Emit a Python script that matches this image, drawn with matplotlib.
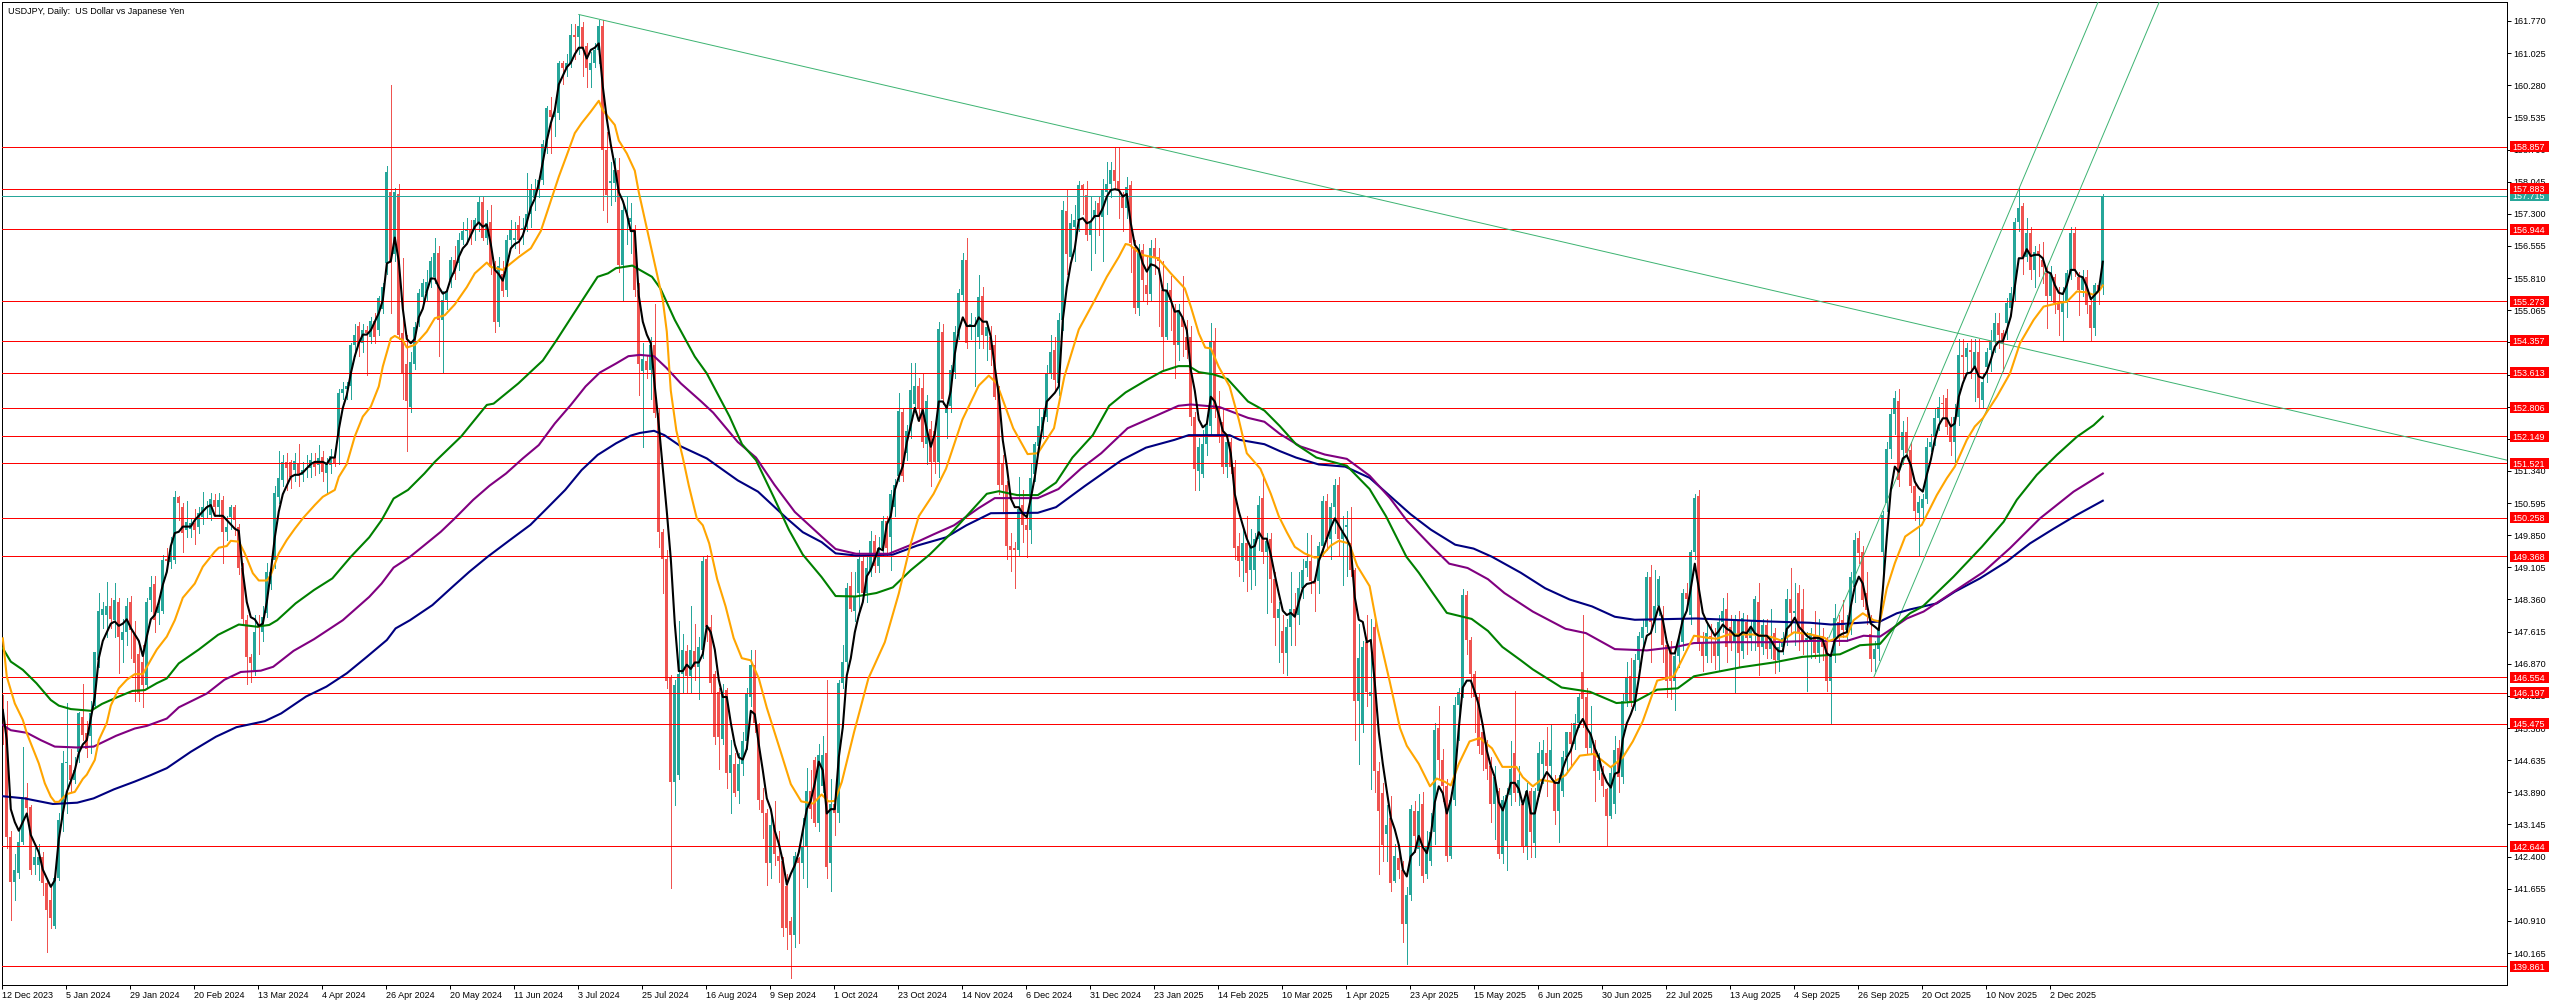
import matplotlib
matplotlib.use("Agg")
import matplotlib.pyplot as plt
from matplotlib.patches import Rectangle
from matplotlib.transforms import blended_transform_factory as blend

title = "USDJPY, Daily:  US Dollar vs Japanese Yen"
date_labels = ["12 Dec 2023","5 Jan 2024","29 Jan 2024","20 Feb 2024","13 Mar 2024","4 Apr 2024","26 Apr 2024","20 May 2024","11 Jun 2024","3 Jul 2024","25 Jul 2024","16 Aug 2024","9 Sep 2024","1 Oct 2024","23 Oct 2024","14 Nov 2024","6 Dec 2024","31 Dec 2024","23 Jan 2025","14 Feb 2025","10 Mar 2025","1 Apr 2025","23 Apr 2025","15 May 2025","6 Jun 2025","30 Jun 2025","22 Jul 2025","13 Aug 2025","4 Sep 2025","26 Sep 2025","20 Oct 2025","10 Nov 2025","2 Dec 2025"]
price_ticks = [161.770,161.025,160.280,159.535,158.790,158.045,157.300,156.555,155.810,155.065,154.320,153.575,152.830,152.085,151.340,150.595,149.850,149.105,148.360,147.615,146.870,146.125,145.380,144.635,143.890,143.145,142.400,141.655,140.910,140.165]
levels = [158.857,157.883,156.944,155.273,154.357,153.613,152.806,152.149,151.521,150.258,149.368,146.554,146.197,145.475,142.644,139.861]
last_price = 157.715

opens = [145.6,145.4,142.86,141.82,142.03,142.75,143.79,143.55,142.2,142.2,
142.4,141.78,141.4,140.79,141.9,143.25,144.56,144.52,144.17,144.83,
145.64,145.26,145.2,145.88,146.96,148.0,148.0,148.2,147.88,148.3,
147.42,147.6,148.3,147.58,147.1,146.9,146.38,148.35,148.73,148.05,
148.1,149.3,149.23,149.28,150.74,150.5,149.97,150.0,150.13,150.05,
150.28,150.49,150.32,150.66,150.5,150.66,149.93,150.28,150.5,150.05,
149.08,147.88,147.03,146.73,147.75,147.6,148.04,148.73,149.27,150.74,
151.13,151.55,151.55,151.36,151.5,151.25,151.36,151.4,151.55,151.48,
151.67,151.3,151.48,151.65,152.13,153.14,153.23,153.3,154.26,154.7,
154.3,154.6,154.45,154.82,154.6,155.1,156.15,157.8,156.38,157.77,
154.53,153.83,152.83,153.83,154.84,155.38,155.46,155.73,155.84,156.4,
154.84,155.3,155.77,156.23,156.15,156.7,156.9,156.93,156.93,157.08,
157.58,156.73,157.12,156.07,154.8,155.9,155.53,156.7,156.7,157.04,
156.93,157.0,157.3,157.66,157.85,158.08,158.86,159.7,159.55,159.63,
160.79,160.67,160.79,161.45,161.41,161.64,161.2,160.63,160.79,161.1,
161.65,158.78,158.02,158.02,158.32,156.11,157.36,157.1,156.93,155.53,
153.66,153.89,153.68,154.26,152.69,149.92,149.3,146.53,144.13,144.29,
146.64,147.16,146.58,147.16,146.79,147.2,149.3,147.73,146.64,146.22,
145.12,146.27,144.34,144.55,143.92,144.55,145.07,146.11,146.85,145.44,
143.71,143.4,142.25,143.14,142.41,142.3,141.73,140.9,140.58,142.36,
142.25,142.62,143.92,144.65,143.19,144.03,144.81,142.25,143.61,143.4,
146.43,146.9,148.67,148.1,148.51,149.25,148.51,149.04,149.72,149.14,
149.56,150.19,149.82,150.5,151.23,152.71,151.75,152.27,152.9,153.32,
153.26,151.96,152.32,152.27,151.54,154.57,152.69,152.85,153.63,154.53,
155.42,156.23,154.68,154.67,154.45,155.4,154.47,154.45,154.26,153.21,
151.49,151.02,149.61,149.56,149.51,150.55,150.08,149.98,151.28,151.91,
152.33,152.59,153.58,154.14,153.37,154.84,157.36,156.3,157.0,157.16,
157.97,157.73,156.8,157.23,157.54,157.23,157.81,158.0,158.32,158.05,
157.73,157.43,157.97,156.54,155.11,156.46,155.65,155.45,156.5,156.3,
155.53,154.45,155.53,155.07,154.26,154.88,154.45,154.45,152.59,151.33,
151.28,151.96,152.38,154.36,152.79,152.48,151.44,152.01,151.44,149.61,
149.25,149.66,149.04,149.04,149.77,150.71,149.45,149.77,148.83,147.94,
147.63,147.11,147.73,148.15,147.99,148.62,149.09,149.25,148.78,148.78,
149.61,150.65,149.77,150.5,151.02,149.77,150.03,149.66,149.04,146.0,
145.44,147.37,146.12,147.73,144.39,143.87,142.93,143.3,141.83,142.36,
142.1,140.84,141.52,143.45,142.57,143.61,141.99,142.3,142.98,145.38,
144.65,144.03,142.41,143.71,145.91,146.22,148.46,147.42,146.64,146.11,
145.28,144.97,144.5,143.61,143.92,142.46,142.77,143.82,144.81,143.87,
143.61,142.62,143.92,142.72,143.92,144.55,144.81,144.5,144.13,143.45,
143.92,144.7,145.28,145.02,145.49,146.69,146.11,144.91,144.97,144.39,
144.34,143.97,143.35,143.61,144.91,144.24,146.01,146.58,145.96,146.95,
147.47,147.73,148.88,147.84,148.2,148.0,147.31,147.26,146.48,147.05,
147.37,148.52,147.99,149.45,150.76,147.37,147.05,147.52,147.37,147.05,
147.84,148.15,147.73,147.37,147.89,147.16,147.84,147.47,147.63,148.31,
147.26,147.78,147.21,147.58,146.95,147.26,147.47,148.36,148.05,148.52,
148.15,147.42,147.37,147.52,147.11,147.52,147.37,146.48,147.05,147.84,
147.88,147.65,147.65,148.66,149.78,149.47,148.5,147.57,146.99,147.21,
149.47,150.59,151.86,152.67,152.95,151.83,152.25,151.83,151.0,150.36,
150.47,150.7,151.9,152.13,152.56,152.92,153.02,152.37,152.02,152.6,
154.03,153.99,154.14,153.76,154.1,152.98,153.76,154.14,154.34,154.76,
154.53,154.76,155.11,155.46,157.12,157.47,156.31,156.85,156.0,156.44,
156.23,155.92,155.4,155.84,155.23,155.03,155.23,155.92,156.85,155.84,
155.53,155.84,155.19,154.65,155.65,155.61]

closes = [145.4,142.86,141.82,142.09,142.75,143.79,143.52,142.09,142.4,142.4,
141.78,141.16,140.97,141.9,143.25,144.56,144.6,144.17,144.4,145.72,
145.22,144.9,145.72,147.15,148.1,148.13,148.2,147.9,148.35,147.5,
147.6,148.2,147.65,146.88,146.2,146.38,148.3,148.65,147.88,148.2,
149.27,149.25,149.43,150.74,150.59,149.9,150.16,150.13,149.97,150.36,
150.5,150.5,150.7,150.5,150.66,149.93,150.05,150.5,150.2,149.08,
147.9,147.03,146.88,147.6,147.7,147.95,149.0,149.0,150.82,151.17,
151.55,151.4,151.2,151.58,151.25,151.36,151.4,151.59,151.44,151.63,
151.32,151.5,151.69,151.5,153.14,153.25,153.3,154.26,154.5,154.26,
154.6,154.53,154.82,154.45,155.34,155.6,158.28,156.15,157.8,154.5,
153.6,152.97,153.87,154.68,155.46,155.7,155.73,156.2,156.4,154.84,
155.3,155.46,156.23,155.9,156.7,156.9,156.93,156.77,157.15,157.58,
156.73,157.08,156.07,154.8,156.1,155.5,156.7,156.93,156.75,156.7,
156.96,157.3,157.85,157.85,158.08,158.92,159.75,159.55,159.63,160.79,
160.67,160.79,161.45,161.41,161.65,161.17,160.67,160.8,161.1,161.65,
158.78,157.74,158.05,158.32,156.11,157.39,157.39,157.2,155.53,153.83,
153.94,153.68,154.26,152.69,149.92,149.3,146.48,144.13,146.38,146.64,
147.2,146.58,147.2,146.79,147.26,149.25,147.73,146.43,145.17,145.17,
146.22,144.34,144.76,143.87,144.55,145.07,146.17,146.85,145.49,143.71,
143.4,142.25,143.14,142.46,142.3,140.74,140.74,140.58,142.41,142.25,
142.62,143.92,143.5,143.19,144.76,144.76,142.15,143.61,143.4,146.43,
146.9,148.62,148.15,148.41,149.3,148.51,149.09,149.72,149.14,149.56,
150.19,149.56,150.81,151.02,152.74,151.23,152.27,153.21,153.32,152.79,
152.01,152.95,151.54,151.54,154.62,153.0,152.85,153.68,154.57,155.46,
156.23,154.31,154.75,154.72,155.38,154.49,154.68,154.14,153.06,151.02,
151.02,149.61,149.51,149.51,150.45,150.08,149.98,151.18,151.96,152.38,
152.59,153.58,154.1,153.45,154.84,157.39,156.38,157.08,157.16,157.97,
157.85,156.8,157.08,157.39,157.27,157.85,158.0,158.32,158.05,157.85,
157.43,157.93,156.62,155.11,156.46,155.76,155.45,156.5,156.3,156.2,
154.45,155.53,155.3,154.26,155.07,154.68,154.14,152.59,151.39,151.9,
151.96,152.38,154.36,152.79,152.17,151.44,152.01,151.44,149.56,149.25,
149.66,148.98,149.61,149.77,150.55,149.45,149.72,148.83,147.94,148.15,
147.11,147.73,148.15,147.99,148.62,149.04,149.25,148.78,148.72,149.61,
150.65,149.77,150.5,151.02,149.77,149.92,150.08,149.04,146.0,147.0,
147.26,146.22,146.22,144.39,143.45,142.67,143.14,141.78,142.41,142.1,
140.84,141.52,143.5,142.88,143.45,141.94,142.62,142.98,145.33,144.65,
144.03,142.41,143.71,145.91,146.22,148.46,147.42,146.64,146.11,144.97,
144.76,144.44,143.61,144.24,142.46,143.71,143.82,144.44,143.87,144.18,
142.62,143.92,142.98,143.92,144.81,144.86,144.5,144.86,143.45,144.13,
144.7,145.28,145.02,145.49,146.11,146.06,144.91,145.28,144.39,144.65,
144.03,143.35,144.34,144.86,144.24,146.01,146.53,146.0,146.95,147.52,
147.73,148.88,147.84,148.2,148.83,147.31,146.48,146.48,147.05,147.37,
148.52,148.36,149.45,150.71,147.37,147.05,147.58,147.49,147.05,147.84,
148.1,147.26,147.37,147.89,147.11,147.94,147.47,147.73,148.36,147.26,
147.78,147.21,147.52,146.95,147.26,147.47,148.36,148.05,148.1,147.58,
147.37,147.47,147.58,147.11,147.47,147.26,146.48,147.05,147.94,147.47,
147.65,147.77,148.89,149.74,149.43,148.35,148.12,146.99,147.21,147.65,
150.32,151.86,152.67,153.02,151.13,152.25,151.75,151.0,150.4,150.63,
150.7,151.9,152.02,152.56,152.83,152.9,152.37,152.02,152.6,154.03,
153.99,154.18,154.1,154.1,153.02,153.41,154.1,154.34,154.76,154.49,
154.34,155.23,155.46,157.12,157.43,156.31,156.85,156.0,156.42,156.35,
156.07,155.4,155.92,155.23,155.07,155.23,155.92,156.85,156.0,155.53,
155.84,155.19,154.65,155.65,155.53,157.71]

highs = [146.14,146.0,143.0,142.47,143.0,144.95,144.1,143.6,142.6,142.7,
142.5,141.9,141.7,141.98,143.4,144.85,145.95,144.9,144.7,145.75,
146.4,145.55,146.0,146.1,148.5,148.3,148.77,148.4,148.75,148.4,
147.9,148.4,148.45,147.85,147.4,147.3,148.4,148.9,148.9,148.3,
149.4,149.55,149.8,150.87,150.75,150.6,150.65,150.25,150.45,150.5,
150.85,150.65,150.82,150.8,150.82,150.75,150.3,150.55,150.55,150.1,
149.2,148.0,147.1,148.0,148.0,148.2,149.2,149.3,151.0,151.8,
151.7,151.75,151.6,151.75,151.97,151.55,151.7,151.75,151.75,151.95,
151.8,151.65,151.85,151.8,153.25,153.4,153.4,154.3,154.75,154.8,
154.75,154.7,154.9,155.0,155.4,155.7,158.4,160.29,157.9,158.0,
156.27,154.5,154.1,154.8,155.55,155.78,156.0,156.3,156.75,156.55,
155.5,155.6,156.3,156.55,156.85,157.1,157.2,157.15,157.2,157.7,
157.7,157.4,157.5,156.2,156.3,156.2,156.8,157.15,157.1,157.25,
157.2,158.25,158.0,158.1,158.15,159.0,159.8,160.0,159.8,160.85,
160.85,161.0,161.7,161.7,161.92,161.75,161.25,161.05,161.25,161.8,
161.8,159.2,158.5,158.6,158.6,157.5,157.7,157.55,157.05,155.7,
154.3,154.0,154.45,155.2,152.8,150.0,149.5,146.6,146.5,147.85,
147.55,147.3,148.2,147.8,147.5,149.35,149.4,148.0,146.7,146.3,
146.4,146.3,145.1,144.8,144.8,145.3,146.3,147.2,147.2,145.5,
144.0,143.5,143.4,143.7,143.0,142.4,142.0,141.0,142.5,142.4,
143.3,144.45,144.4,144.7,145.0,145.2,146.5,144.2,143.8,146.5,
147.3,148.75,149.0,149.0,149.5,149.4,149.35,149.95,149.85,149.8,
150.3,150.3,150.9,151.15,153.15,152.8,152.4,153.85,153.85,153.5,
153.6,153.1,152.5,152.4,154.8,154.75,152.9,153.8,154.7,155.55,
156.4,156.73,155.0,154.9,155.88,155.6,154.8,154.7,154.5,153.3,
151.7,151.1,149.9,149.7,151.2,150.9,150.4,151.5,152.0,152.8,
152.8,153.8,154.5,154.45,155.0,157.6,157.85,157.3,157.5,158.05,
158.0,158.05,157.7,157.6,157.7,158.1,158.5,158.5,158.86,158.86,
157.8,158.15,158.05,156.7,156.6,156.6,156.3,156.7,156.73,156.5,
156.2,155.7,155.85,155.2,155.2,155.85,154.85,154.7,152.7,152.1,
152.3,152.5,154.78,154.65,153.2,152.8,152.1,152.1,151.6,149.9,
150.0,150.3,150.0,149.9,150.75,151.27,149.9,149.9,149.0,148.3,
148.0,147.9,149.0,148.5,149.0,149.3,149.9,149.85,148.9,149.7,
150.75,150.8,150.6,151.15,151.2,150.3,150.4,150.5,149.1,147.8,
147.4,148.0,147.9,147.9,144.6,144.1,143.6,143.8,142.7,142.5,
142.3,141.7,143.6,143.7,143.85,143.9,143.0,143.4,145.5,145.9,
144.9,144.2,143.9,146.1,146.3,148.6,148.55,147.5,146.7,146.2,
145.4,145.1,144.7,144.5,144.0,143.8,144.0,145.07,146.25,144.5,
143.7,144.1,144.0,144.0,145.05,145.1,145.4,145.45,144.3,144.3,
144.85,145.3,145.5,145.7,146.2,148.0,146.3,145.9,145.1,144.8,
144.5,144.0,144.5,145.2,145.1,146.2,146.9,147.0,147.1,147.6,
147.9,149.0,149.15,149.05,148.9,148.2,147.4,147.4,147.2,147.5,
148.6,148.75,149.5,150.8,150.9,147.6,147.8,147.8,147.7,148.0,
148.4,148.5,148.0,148.0,148.1,148.05,148.0,147.85,148.45,148.75,
147.9,147.9,148.15,147.7,147.4,147.6,148.6,149.1,148.75,148.7,
148.6,147.6,147.7,148.1,147.9,147.7,147.5,147.1,148.25,148.0,
148.35,148.0,149.0,149.9,149.95,149.6,149.0,148.0,147.4,147.8,
150.4,152.0,152.8,153.2,153.25,152.5,152.6,152.0,151.1,150.75,
150.8,152.1,152.2,152.8,153.05,153.1,153.25,152.6,152.9,154.4,
154.4,154.3,154.4,154.4,154.4,153.6,154.2,154.6,155.0,155.0,
154.6,155.35,155.6,157.2,157.89,157.55,157.2,157.0,156.55,156.6,
156.65,156.1,156.1,155.9,155.6,155.6,156.0,157.0,157.0,155.95,
156.0,156.0,155.3,155.7,155.75,157.76]

lows = [145.0,142.6,140.93,141.4,141.9,142.7,143.4,142.0,142.0,141.85,
141.5,140.2,140.75,140.75,141.85,143.0,143.4,143.9,144.1,144.6,
145.1,144.7,144.8,145.85,146.8,147.7,147.5,147.7,147.5,146.65,
146.9,147.3,147.0,146.0,146.0,145.87,146.3,148.1,147.6,147.8,
148.05,149.15,149.1,149.2,150.2,149.47,149.8,149.8,149.65,149.9,
150.1,150.25,150.2,150.3,150.3,149.2,149.75,150.0,149.85,148.95,
147.8,146.4,146.45,146.6,147.1,147.4,147.95,148.6,149.1,150.6,
151.0,150.9,150.95,151.1,151.0,151.1,151.2,151.2,151.25,151.3,
151.1,150.8,151.3,151.45,151.5,153.0,153.0,153.0,154.0,154.0,
154.1,153.56,154.3,154.3,154.5,155.0,155.9,155.0,156.2,154.4,
153.0,151.8,152.7,153.7,154.7,155.2,155.3,155.6,155.7,154.0,
153.6,155.1,155.6,155.8,156.0,156.6,156.7,156.6,156.7,156.9,
156.7,156.6,155.9,154.55,154.7,155.4,155.4,156.5,156.5,156.4,
156.6,156.9,157.0,157.4,157.7,158.0,158.7,158.7,159.1,159.5,
160.3,160.5,160.7,160.9,161.0,160.5,160.25,160.25,160.7,160.8,
157.4,157.1,157.5,157.6,155.95,155.3,156.6,156.4,155.4,153.1,
151.9,153.5,153.0,152.6,149.58,148.5,146.3,141.68,143.6,144.2,
146.2,146.2,146.2,146.5,146.05,147.0,147.4,146.2,145.0,144.44,
145.0,144.0,143.4,143.8,143.65,144.3,144.9,145.9,145.3,143.5,
142.83,141.75,141.9,142.2,141.8,140.55,140.27,139.58,140.3,140.4,
141.9,141.7,143.3,143.1,143.0,143.9,141.9,141.6,142.9,143.2,
146.3,146.7,148.1,147.85,148.0,148.4,148.3,148.9,149.0,149.0,
149.4,149.4,149.05,150.3,151.1,151.1,151.6,152.1,152.7,152.5,
151.9,151.5,151.0,151.3,151.2,152.9,152.1,152.7,153.5,154.4,
155.3,154.2,154.4,153.3,154.2,154.2,153.9,153.8,153.0,150.8,
150.4,149.3,149.03,148.62,149.4,149.7,149.35,149.66,151.1,151.8,
152.1,152.5,153.5,153.2,153.1,154.6,155.9,156.2,156.2,156.9,
157.3,156.7,156.0,156.4,156.8,156.2,157.3,157.7,157.9,157.2,
156.9,157.2,155.95,155.0,154.95,155.3,155.2,155.3,155.9,154.7,
153.7,154.4,154.6,153.5,153.9,154.0,153.95,152.4,150.9,150.9,
151.2,151.7,152.2,152.6,152.0,151.3,151.2,151.3,149.3,148.9,
148.8,148.55,148.6,148.7,149.5,149.2,148.05,148.3,147.3,146.9,
146.65,146.6,147.3,147.3,147.8,148.4,148.9,148.5,148.1,148.5,
149.4,149.5,149.3,149.9,149.4,148.7,148.9,148.9,145.1,144.55,
145.3,145.9,143.97,143.9,142.0,142.3,142.3,141.6,141.8,141.9,
140.42,139.9,141.4,142.5,142.2,141.8,141.9,142.2,142.7,144.2,
143.7,142.3,142.37,143.6,145.1,146.1,147.1,146.1,145.3,144.8,
144.4,144.2,143.2,142.8,142.36,142.25,142.1,143.6,143.7,143.6,
142.5,142.35,142.4,142.4,143.8,144.1,143.8,144.2,143.15,142.75,
143.8,144.4,144.5,144.9,145.4,145.4,144.8,144.8,143.7,144.2,
143.8,142.64,143.3,143.4,143.9,144.1,145.9,145.9,145.8,146.8,
147.3,147.6,146.9,147.6,148.0,146.9,146.1,146.06,145.8,146.8,
147.2,148.2,147.8,149.3,147.2,146.7,146.9,146.9,146.75,146.7,
147.6,146.9,147.2,146.2,146.8,147.0,147.1,147.2,147.2,146.6,
147.1,147.0,147.0,146.65,146.7,147.1,147.3,147.6,147.3,147.2,
147.1,146.25,147.0,147.0,146.9,146.95,146.25,145.47,146.9,147.3,
147.5,147.4,147.55,148.3,149.2,148.2,147.8,146.7,146.7,146.95,
148.9,150.4,151.65,152.2,151.0,151.5,151.65,150.85,150.2,149.4,
150.2,150.6,151.8,151.95,152.3,152.6,152.2,151.7,151.5,152.4,
153.5,153.6,153.5,152.95,152.8,152.8,153.4,153.65,154.1,154.2,
153.65,154.4,155.0,155.3,156.9,155.9,156.2,155.8,155.6,155.85,
155.7,154.65,155.3,155.0,154.5,154.36,154.9,155.8,155.85,154.95,
155.4,155.0,154.36,154.5,155.2,155.45]

fast_ma = [145.8,145.1,143.5,143.2,143.0,143.2,143.4,142.9,142.7,142.5,
142.1,141.9,141.7,141.85,142.8,143.4,143.9,144.15,144.4,144.8,
145.0,145.1,145.6,146.1,147.0,147.4,147.6,147.8,147.85,147.75,
147.8,147.9,147.7,147.55,147.4,147.05,147.5,147.9,148.0,148.3,
148.7,149.0,149.6,149.9,149.93,150.05,150.05,150.05,150.2,150.3,
150.4,150.5,150.55,150.3,150.3,150.3,150.2,150.1,150.0,149.95,
149.0,148.3,147.95,147.9,147.75,147.8,148.3,149.0,149.8,150.4,
150.8,151.0,151.2,151.25,151.25,151.3,151.4,151.5,151.55,151.55,
151.55,151.5,151.65,151.65,152.3,152.8,153.1,153.6,154.0,154.3,
154.5,154.5,154.6,154.8,155.0,155.3,156.15,156.2,156.75,156.2,
155.1,154.4,154.3,154.4,154.9,155.1,155.5,155.8,155.8,155.6,
155.45,155.5,155.8,156.0,156.3,156.5,156.6,156.8,157.0,157.1,
157.0,157.05,156.6,156.0,155.9,155.75,156.1,156.5,156.6,156.65,
156.8,157.1,157.45,157.65,158.0,158.5,159.0,159.4,159.7,160.3,
160.5,160.7,160.8,161.0,161.15,161.15,160.9,161.1,161.15,161.25,
160.25,159.5,158.9,158.4,157.8,157.6,157.3,156.9,156.9,155.4,
154.8,154.5,154.3,153.3,152.4,151.4,150.4,149.3,147.8,146.7,
146.7,146.85,146.75,146.9,146.9,147.1,147.75,147.6,147.2,146.5,
146.1,146.1,145.5,145.0,144.7,144.65,144.9,145.78,145.7,145.0,
144.4,143.75,143.5,143.0,142.7,142.3,141.75,142.0,142.2,142.5,
143.0,143.5,143.7,144.1,144.6,144.4,143.4,143.5,143.5,144.7,
145.4,146.6,147.0,147.6,148.0,148.3,148.9,149.05,149.3,149.55,
149.5,150.1,150.3,150.9,151.2,151.45,152.0,152.4,152.8,152.5,
152.75,152.3,151.9,152.2,152.95,152.95,152.8,153.2,154.05,154.6,
154.9,154.7,154.7,154.7,154.9,154.8,154.8,154.45,153.75,153.1,
152.05,151.45,150.7,150.5,150.5,150.35,150.27,150.7,151.2,151.85,
152.4,152.95,153.05,153.15,153.3,154.84,155.6,156.15,156.5,157.16,
157.2,157.08,157.12,157.25,157.25,157.43,157.7,157.85,157.87,157.85,
157.7,157.76,157.08,156.58,156.46,156.15,155.96,156.13,156.1,156.02,
155.53,155.52,155.3,155.03,155.05,154.88,154.6,153.68,153.2,152.53,
152.35,152.43,153.06,152.95,152.64,152.27,152.17,151.75,150.8,150.4,
150.08,149.77,149.56,149.6,149.92,149.77,149.77,149.4,148.93,148.5,
148.1,148.0,148.05,147.96,148.3,148.62,148.72,148.74,148.78,149.25,
149.5,149.77,150.03,150.24,150.08,149.92,149.77,149.56,148.41,147.89,
147.84,147.37,147.42,146.43,145.28,144.55,143.92,143.3,143.03,142.67,
142.1,141.94,142.41,142.51,142.88,142.62,142.48,142.88,143.66,144.03,
143.87,143.4,143.71,144.24,145.38,146.32,146.48,146.48,146.22,145.91,
145.44,144.86,144.5,144.24,143.66,143.47,143.77,144.11,144.11,143.97,
143.61,143.92,143.4,143.4,143.82,144.18,144.36,144.24,144.11,144.11,
144.44,144.7,144.86,145.17,145.44,145.59,145.38,145.23,144.91,144.7,
144.34,144.13,144.0,144.32,144.36,145.12,145.49,145.7,145.96,146.53,
147.16,147.52,147.58,147.89,148.2,147.89,147.37,147.11,147.11,147.47,
147.89,148.1,148.62,149.19,148.62,148.05,147.84,147.68,147.52,147.63,
147.78,147.68,147.63,147.52,147.52,147.6,147.58,147.73,147.58,147.52,
147.52,147.52,147.42,147.26,147.16,147.16,147.68,147.78,147.94,147.73,
147.63,147.52,147.45,147.47,147.47,147.42,147.11,147.05,147.42,147.52,
147.57,147.6,148.2,148.66,148.89,148.73,148.27,147.8,147.73,147.65,
148.58,149.8,150.9,151.44,151.32,151.63,151.7,151.48,151.09,150.94,
150.86,151.25,151.6,152.06,152.4,152.56,152.56,152.37,152.44,153.06,
153.37,153.6,153.62,153.76,153.53,153.49,153.64,153.91,154.22,154.34,
154.34,154.61,154.92,155.61,156.27,156.27,156.48,156.32,156.35,156.35,
156.27,155.96,155.92,155.65,155.47,155.44,155.65,156.0,156.0,155.86,
155.83,155.61,155.32,155.42,155.53,156.19]

orange_x = [0,1,3,5,6,9,10.5,12,13,14,16,18,20,21,23,24,26,27,29,31,33,35,37,38.5,41,43,45,48,50,53,54,56,57,59,60.5,62.5,64,66,67,69,71,73,75,78,80,83,84,86,88,90,92,94,95,97,98,100,101,103,106,108,110.5,113,116,118,121,122,125,127,129,132,134.5,137,139,141,143,144.7,147,149,150,153,154,156,158,159,165,166,167,168.4,170,171.5,173.5,175,176.6,178.6,180.7,182.7,184.75,187,189,191,194,197,199.6,202.6,204.7,206.4,208,209.75,212.8,216.4,220.5,224,227,229,232.7,235.8,239.9,244,246.5,248.5,252.6,256.2,258.75,262.8,265.4,269,273,276,279,280.7,281.7,284.7,288.8,292,295.5,297,299,300.6,302,304,306.7,309,311,314.4,317,319,321,323,325.4,328,329.5,332,334,336.6,338.6,341.7,343.7,346.8,349.3,351,354,356.8,358.5,360.6,362,364,366.7,369.25,372.3,374.9,378.4,380,382.5,384.6,387.6,390.7,394.25,397.8,402,405,407.5,410,413.6,417.7,420,422.8,426.4,428.4,431.5,437.6,442.2,444.8,447.8,452,455.5,456.5,459.3,461,462.7,465,467.7,469.3,471,473,475.6,479.75,483.5,486,488,491,493,495,498.5,501.8,504.3,507.7,510.2,514.3,516,518.5,521,522.7,524,525]
orange_y = [147.46,146.57,145.95,145.57,145.26,144.56,144.1,143.79,143.67,143.67,143.85,143.9,144.2,144.3,144.64,145.1,145.5,145.9,146.3,146.5,146.63,146.63,146.96,147.2,147.5,147.88,148.4,148.73,149.12,149.47,149.56,149.6,149.72,149.7,149.43,148.97,148.8,148.8,148.93,149.43,149.74,150.0,150.24,150.55,150.74,150.9,151.2,151.5,152.14,152.6,152.83,153.3,153.76,154.41,154.47,154.37,154.2,154.26,154.57,154.88,154.95,155.2,155.6,155.92,156.17,156.07,156.0,156.15,156.3,156.5,156.9,157.6,158.16,158.66,159.17,159.4,159.67,159.92,159.7,159.36,159.0,158.7,158.3,157.8,155.3,154.57,153.2,152.27,151.65,151.0,150.24,150.08,149.66,148.83,148.2,147.47,147.0,146.95,146.53,145.85,144.97,144.08,143.68,143.63,143.84,143.68,143.69,144.13,145.28,146.53,147.37,148.5,149.66,150.29,150.81,151.39,152.53,153.32,153.55,153.37,152.33,151.73,151.75,152.33,153.53,154.62,155.3,155.84,156.3,156.6,156.58,156.35,156.27,155.92,155.57,155.15,154.53,154.2,154.18,153.75,153.3,152.53,151.75,151.39,150.81,150.29,149.92,149.58,149.43,149.33,149.35,149.61,149.72,149.66,149.14,148.67,147.68,146.43,145.38,144.97,144.55,144.03,144.21,144.13,144.05,144.55,145.07,145.15,144.91,144.48,144.48,144.24,144.03,144.18,144.13,144.29,144.74,144.78,144.47,144.7,145.07,145.54,146.48,146.58,147.0,147.52,147.47,147.45,147.55,147.55,147.49,147.4,147.6,147.55,147.47,147.39,147.5,147.5,147.88,148.04,147.88,147.85,148.62,149.2,149.82,150.09,150.78,151.17,151.44,152.06,152.37,152.56,153.06,153.6,154.3,154.84,155.15,155.24,155.26,155.5,155.48,155.42,155.5,155.64]

green_x = [0,2,5,8.4,12,14,17,22,24.8,29,32.4,35.5,38.5,41,44,49,53.8,59,63.5,66.6,68.6,73.2,77.8,82.4,87,91.6,94.7,97.7,101.3,105.4,108,114.6,121,122.7,128.9,132,135,138.5,144.7,148.7,151.3,153.3,157.4,159.25,162.3,164.4,168,173,176,181.7,184.8,188.3,192.9,196.5,200,204.7,208.2,213.3,218.4,222.5,227,231.7,236.8,240.9,246,249,253.6,258.75,263.3,267.4,272.5,276.6,280.7,285.8,289.9,293.9,296.5,299,302.6,306.2,311.3,315.4,319.25,323.3,328.4,336,341.7,345.8,350.9,354,357.5,361,367.2,371.3,374.9,379.5,382.5,389.7,396.8,403.4,408,413.6,418.7,422.8,429,434.6,442.7,449.9,456,459.3,464.3,469.3,473,476.8,480,487.7,494.75,500.2,503.5,508.5,513.5,518.5,522.7,525]
green_y = [147.23,146.92,146.73,146.42,146.03,145.9,145.82,145.78,145.94,146.11,146.24,146.26,146.42,146.53,146.88,147.2,147.54,147.78,147.73,147.77,147.88,148.27,148.58,148.85,149.35,149.8,150.2,150.7,150.9,151.28,151.55,152.14,152.87,152.9,153.37,153.64,153.9,154.38,155.27,155.84,155.92,156.04,156.1,156.0,155.84,155.57,154.84,153.99,153.6,152.6,151.96,151.59,150.7,149.98,149.4,148.88,148.44,148.43,148.51,148.64,149.04,149.4,149.87,150.29,150.81,150.87,150.78,150.78,151.07,151.65,152.17,152.85,153.16,153.44,153.65,153.77,153.77,153.63,153.58,153.47,152.95,152.74,152.38,151.96,151.65,151.46,150.92,150.29,149.35,148.98,148.51,148.05,147.91,147.63,147.26,146.95,146.74,146.32,146.22,145.96,145.99,146.27,146.3,146.58,146.69,146.79,146.9,147.03,147.07,147.09,147.3,147.33,147.73,148.04,148.2,148.89,149.58,150.16,150.67,151.25,151.71,152.13,152.4,152.6]

purple_x = [0,2,6,9.5,13,18.6,22.7,28.3,33,36,41,44,51,55.4,59.5,64.5,67.6,72.7,77.8,85,91.6,94.7,97.7,101.8,105.4,109.5,113,117.6,121.7,125.8,130,134,138,142,145.7,149.25,153.3,156.4,159.25,162.8,165.9,169.5,174.6,177.6,183.75,188.3,192.9,198,204.7,208.2,213.3,221.5,226.6,232.7,237.8,244,248,254,258.75,263.9,269.5,274.6,281.2,288.8,293.9,297,304.2,311.3,315.4,319.25,324.35,330.5,336,341.7,346.8,351,357,361.6,366.2,371.3,375.4,382.5,390.7,395.8,403,411,418.2,422.8,430.5,441.7,451.9,461,465.2,469.3,473,476,480.2,487.7,495.2,501.8,509.3,517.7,525]
purple_y = [145.45,145.33,145.27,145.1,144.95,144.93,144.95,145.2,145.37,145.43,145.6,145.86,146.18,146.5,146.68,146.71,146.8,147.17,147.44,147.88,148.42,148.73,149.1,149.35,149.62,149.93,150.24,150.67,151.0,151.28,151.63,151.94,152.44,152.87,153.3,153.62,153.83,154.0,154.03,154.0,153.73,153.37,152.95,152.69,152.01,151.65,151.02,150.39,149.82,149.53,149.42,149.42,149.61,149.87,150.08,150.48,150.71,150.71,150.71,150.92,151.39,151.75,152.33,152.64,152.85,152.88,152.82,152.57,152.48,152.2,151.91,151.72,151.62,151.23,150.71,150.19,149.61,149.19,149.09,148.83,148.51,148.08,147.68,147.58,147.21,147.18,147.26,147.35,147.37,147.37,147.4,147.4,147.52,147.5,147.73,147.92,148.08,148.54,149.0,149.55,150.24,150.86,151.28]

navy_x = [0,5.4,12.5,18.6,22.7,27.8,33,37,41,47,53.3,58.4,65.5,69.6,75.8,80.9,86,91,96,98.2,101.8,107.4,112.5,116.6,121.2,126.8,131.9,136,140.6,144.7,148.7,153.3,157,159.25,162.8,165.4,169.5,176,183.75,188.8,196,200,204.7,208.2,213.3,222.5,228.6,235.8,240.9,247,258.75,263.3,270.5,279.7,285.8,292.9,296.5,306.7,309.25,315.4,319.25,323.3,329,335.6,341.7,346.8,351.9,357,363.1,367.7,372.3,379.5,385.6,391.7,397.3,403,408,423.3,431.5,441.7,451.9,457,459.3,469.3,473.5,476.8,483.5,488,494.3,501,506.8,512.7,518.5,525]
navy_y = [143.8,143.75,143.62,143.65,143.75,143.96,144.14,144.29,144.45,144.83,145.18,145.4,145.54,145.72,146.11,146.34,146.65,147.03,147.42,147.69,147.88,148.23,148.66,149.0,149.35,149.74,150.09,150.47,150.9,151.36,151.71,151.98,152.16,152.22,152.27,152.17,151.91,151.63,151.12,150.86,150.24,149.92,149.69,149.43,149.38,149.4,149.61,149.8,150.08,150.36,150.37,150.5,150.99,151.59,151.88,152.06,152.17,152.17,152.06,151.96,151.8,151.65,151.49,151.44,151.18,150.76,150.34,149.98,149.63,149.54,149.35,148.98,148.62,148.36,148.2,147.96,147.89,147.92,147.89,147.85,147.82,147.78,147.79,147.85,148.04,148.13,148.27,148.54,148.85,149.24,149.66,150.0,150.32,150.65]

trend_down_x = [144, 626.05]
trend_down_y = [161.92, 151.59]
channel_a_x = [456.5, 524]
channel_a_y = [147.47, 162.25]
channel_b_x = [467.75, 539.3]
channel_b_y = [146.56, 162.25]

plt.rcParams["font.family"] = ["Liberation Sans", "DejaVu Sans"]
FS = 6.5
RED, TEAL, CUP, CDN = "#FF0000", "#26A69A", "#26A69A", "#EF5350"
W, H = 2560, 1006
fig = plt.figure(figsize=(W / 100, H / 100), dpi=100, facecolor="white")
ax = fig.add_axes([2 / W, 1 - 985 / H, 2505 / W, 983 / H])
ax.set_xlim(-0.2, 626.05)
ax.set_ylim(139.424, 162.21)
px = 0.72

n = len(closes)
assert len(opens) == n and len(highs) == n and len(lows) == n and len(fast_ma) == n
xs = list(range(n))
col = [CUP if c >= o else CDN for o, c in zip(opens, closes)]
ax.vlines(xs, lows, highs, colors=col, linewidth=px, antialiased=False, zorder=2)
ax.bar(xs, [max(abs(c - o), 0.02) for o, c in zip(opens, closes)], bottom=[min(o, c) for o, c in zip(opens, closes)],
       width=0.75, color=col, linewidth=0, antialiased=False, zorder=2.1)

for lv in levels:
    ax.axhline(lv, color=RED, linewidth=px, antialiased=False, zorder=3)
ax.axhline(last_price, color=TEAL, linewidth=px, antialiased=False, zorder=3)
for tx, ty in ((trend_down_x, trend_down_y), (channel_a_x, channel_a_y), (channel_b_x, channel_b_y)):
    ax.plot(tx, ty, color="#3CB371", linewidth=0.7, antialiased=True, zorder=3.2)

lw = 1.5
ax.plot(navy_x, navy_y, color="#000080", linewidth=lw, zorder=4)
ax.plot(purple_x, purple_y, color="#800080", linewidth=lw, zorder=4.1)
ax.plot(green_x, green_y, color="#008000", linewidth=lw, zorder=4.2)
ax.plot(orange_x, orange_y, color="#FFA500", linewidth=lw, zorder=4.3)
ax.plot(xs, fast_ma, color="#000000", linewidth=lw, zorder=4.4)

for s in ax.spines.values():
    s.set_linewidth(px)
    s.set_color("black")
    s.set_antialiased(False)

ax.yaxis.tick_right()
ax.set_yticks(price_ticks)
ax.set_yticklabels([f"{v:.3f}" for v in price_ticks], fontsize=FS)
ax.tick_params(axis="y", length=2.9, width=px, pad=1.3, color="black")
ax.set_xticks([k * 16 - 0.2 for k in range(len(date_labels))])
ax.set_xticklabels(date_labels, fontsize=FS, ha="left")
ax.tick_params(axis="x", length=2.9, width=px, pad=1.2, color="black")

ax.text(6 / 2505, 1 - 9 / 983, title, transform=ax.transAxes, fontsize=FS, va="center", ha="left", color="black", zorder=6)

tr = blend(ax.transAxes, ax.transData)
unit = 43.14
def tag(v, c, z):
    ax.add_patch(Rectangle((1 + 3 / 2505, v - 5.5 / unit), 39 / 2505, 11 / unit, transform=tr, facecolor=c, edgecolor="none",
                           antialiased=False, clip_on=False, zorder=z))
    ax.text(1 + 5.5 / 2505, v, f"{v:.3f}", transform=tr, fontsize=FS, color="white", va="center_baseline", ha="left", zorder=z + 0.1, clip_on=False)
tag(last_price, TEAL, 7)
for lv in levels:
    tag(lv, RED, 8)

fig.savefig("out.png", dpi=100, facecolor="white")
